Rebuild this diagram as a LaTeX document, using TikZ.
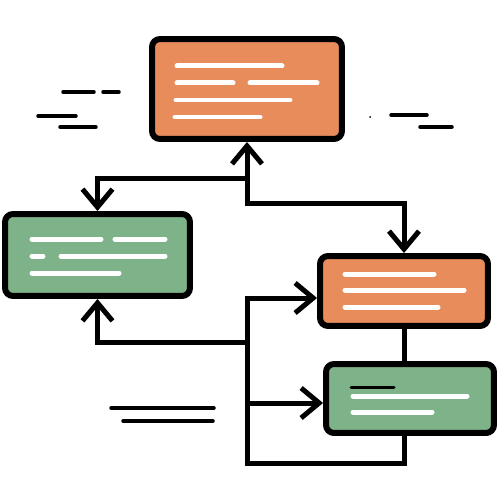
\documentclass[tikz,border=0pt]{standalone}
\usetikzlibrary{arrows.meta}
\definecolor{boxorange}{RGB}{233,140,92}
\definecolor{boxgreen}{RGB}{126,179,137}
\tikzset{barb/.tip={Straight Barb[length=0.36cm, width=0.6cm]}}
\begin{document}
\begin{tikzpicture}[x=0.02cm, y=-0.02cm,
        box/.style={draw, line width=0.12cm, rounded corners=0.16cm},
        conn/.style={line width=0.1cm},
        txt/.style={white, line width=0.1cm, line cap=round},
        deco/.style={line width=0.07cm, line cap=round}]
        \useasboundingbox (0,0) rectangle (500,500);

        \node[box, fill=boxorange, minimum width=3.80cm, minimum height=2.00cm] (1) at (247,89) {};
        \node[box, fill=boxgreen, minimum width=3.70cm, minimum height=1.64cm] (2) at (97.5,255) {};
        \node[box, fill=boxorange, minimum width=3.36cm, minimum height=1.40cm] (3) at (404,291) {};
        \node[box, fill=boxgreen, minimum width=3.36cm, minimum height=1.38cm] (4) at (410,398.5) {};

        \coordinate (j1) at (247,178);
        \coordinate (j2) at (247,203);
        \coordinate (j3) at (247,342);
        \coordinate (j4) at (247,298);
        \coordinate (j5) at (247,403);
        \coordinate (j6) at (247,463);

        \draw[conn, barb-barb] (1.south) -- (j2) -| (3.north);
        \draw[conn, -barb] (j1) -| (2.north);
        \draw[conn, -barb] (j3) -| (2.south);
        \draw[conn, -barb] (3.south |- 4.south) |- (j6) -- (j4) -- (j4 -| 3.west);
        \draw[conn, -barb] (j5) -- (j5 -| 4.west);
        \draw[conn] (3.south) -- (3.south |- 4.north);

        \foreach \xa/\xb/\y in {177/282/66, 177/233/83, 250/317/83, 176/290/100, 175/260/117,
                32/101/239, 115/165/239, 32/43/256, 61/165/256, 32/119/273,
                345/434/274, 345/464/290, 345/438/307, 353/467/396, 353/432/412}
            \draw[txt] (\xa,\y) -- (\xb,\y);
        \draw[line width=0.06cm, line cap=round] (351,387) -- (394,387);

        \foreach \xa/\xb/\y in {63/94/92, 103/119/92, 38/76/116, 60/96/127,
                391/427/115, 420/452/127, 111/214/408, 123/213/421}
            \draw[deco] (\xa,\y) -- (\xb,\y);
        \fill (370,117) circle (1);
    \end{tikzpicture}
\end{document}
